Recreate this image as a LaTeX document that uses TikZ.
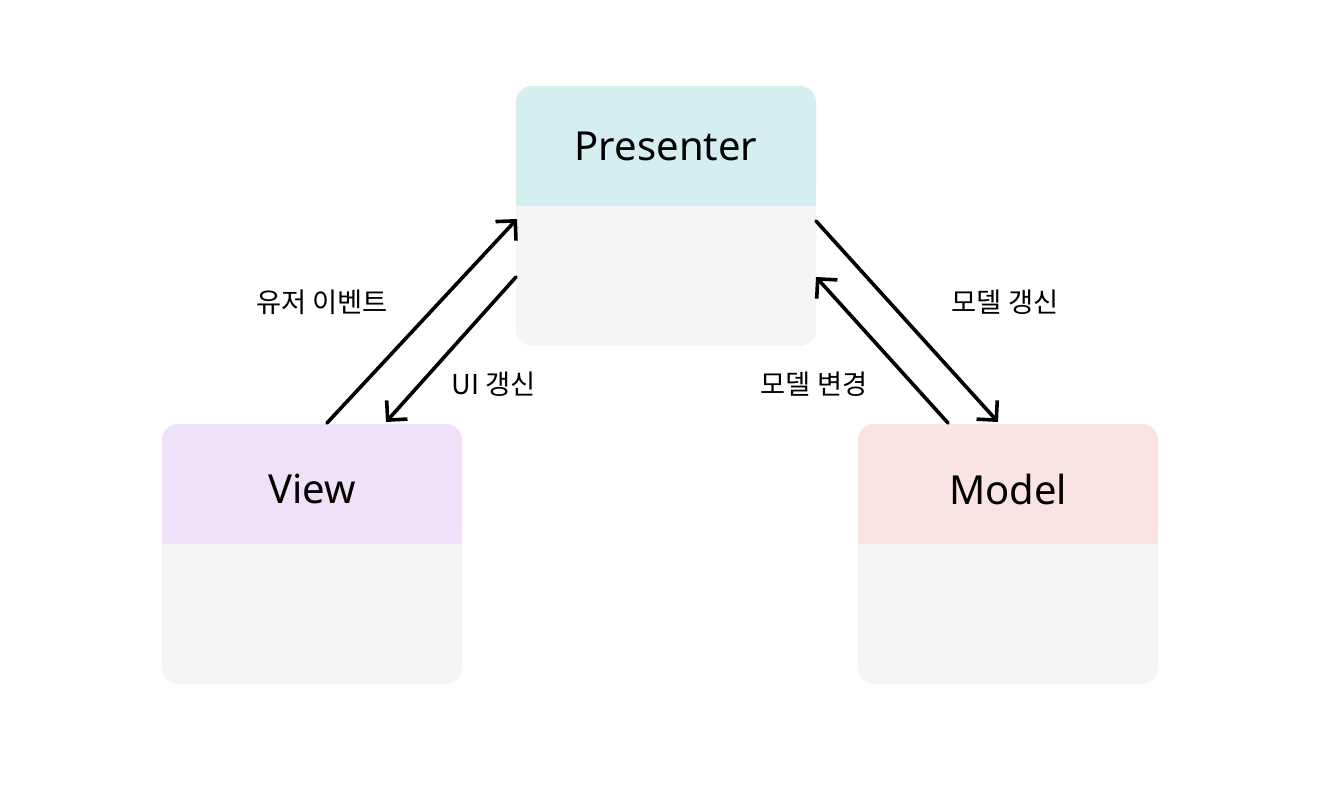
\documentclass[tikz,border=0pt]{standalone}
\usepackage{fontspec}
\setmainfont{Noto Sans}
\newfontfamily\kr{Noto Sans CJK KR}
\usetikzlibrary{arrows.meta}
\definecolor{bodyc}{HTML}{F5F5F5}
\definecolor{presc}{HTML}{D5EFF0}
\definecolor{viewc}{HTML}{EFE2F8}
\definecolor{modelc}{HTML}{F9E3E3}
\tikzset{
  title/.style={font=\fontsize{30}{35}\selectfont, text=black},
  lbl/.style={font=\kr\fontsize{20.5}{24}\selectfont, text=black},
  conn/.style={line width=2.7pt, -{Straight Barb[length=10.5pt,width=21pt,line width=2.7pt]}, line cap=round},
}
\newcommand{\mvcbox}[3]{% x0, y0, header colour
  \fill[bodyc, rounded corners=12pt] (#1,#2) rectangle ++(300,260);
  \fill[#3, rounded corners=12pt] (#1,#2) rectangle ++(300,120);
  \fill[#3] (#1,#2+60) rectangle ++(300,60);
}
\begin{document}
\begin{tikzpicture}[x=0.75pt,y=-0.75pt]
\useasboundingbox (0,0) rectangle (1334,788);
\mvcbox{516}{86}{presc}
\mvcbox{162}{424}{viewc}
\mvcbox{858}{424}{modelc}
\node[title] (P) at (666,146) {Presenter};
\node[title] (V) at (312,489) {View};
\node[title] (M) at (1008,489) {Model};
\coordinate (vp1) at (327,423);
\coordinate (vp2) at (517,219);
\coordinate (pv1) at (516,277);
\coordinate (pv2) at (386,422);
\coordinate (pm1) at (816,221);
\coordinate (pm2) at (998,422);
\coordinate (mp1) at (948,423);
\coordinate (mp2) at (816,277);
\draw[conn] (vp1) -- (vp2);
\draw[conn] (pv1) -- (pv2);
\draw[conn] (pm1) -- (pm2);
\draw[conn] (mp1) -- (mp2);
\node[lbl] (l1) at (322,302) {유저 이벤트};
\node[lbl] (l2) at (494,384) {UI 갱신};
\node[lbl] (l3) at (814,384) {모델 변경};
\node[lbl] (l4) at (1005,302) {모델 갱신};
\end{tikzpicture}
\end{document}
